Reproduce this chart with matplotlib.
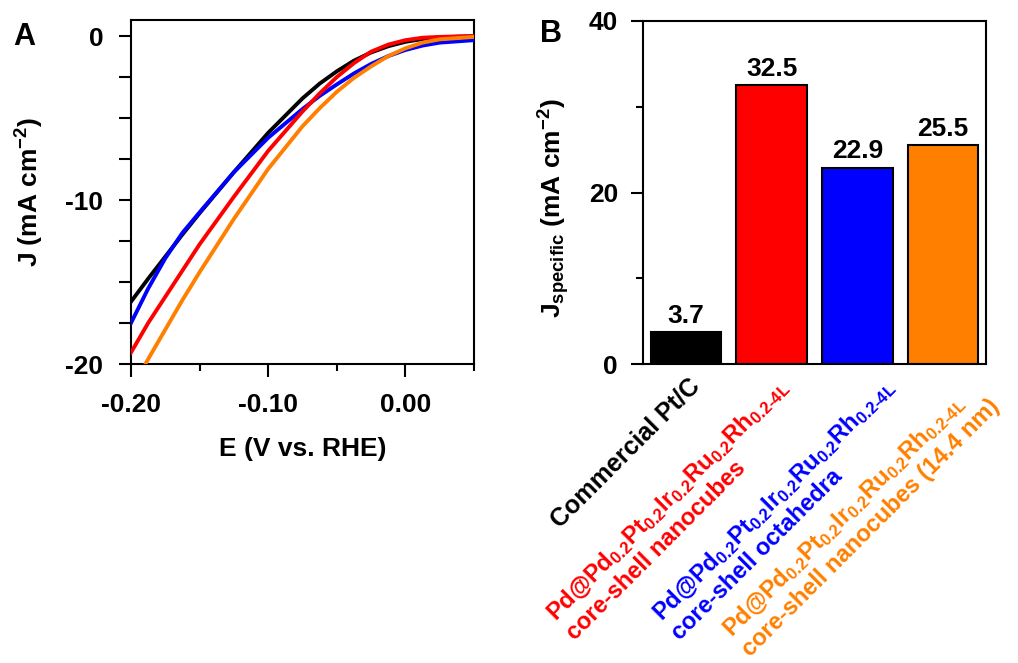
# -*- coding: utf-8 -*-
# LSV curves (A) and specific activity bars (B)

import numpy as np
import matplotlib
matplotlib.use("Agg")
import matplotlib.pyplot as plt
from matplotlib.ticker import MultipleLocator, FormatStrFormatter

plt.rcParams['font.family'] = 'Liberation Sans'
plt.rcParams['font.weight'] = 'bold'
plt.rcParams['axes.unicode_minus'] = False
plt.rcParams['mathtext.fontset'] = 'custom'
plt.rcParams['mathtext.rm'] = 'Liberation Sans:bold'
plt.rcParams['mathtext.it'] = 'Liberation Sans:bold'
plt.rcParams['mathtext.bf'] = 'Liberation Sans:bold'
plt.rcParams['mathtext.default'] = 'regular'

# ---- dados painel A (E em V vs RHE, J em mA cm-2) ----
E = [-0.2, -0.1875, -0.175, -0.1625, -0.15, -0.125, -0.1, -0.075, -0.0625, -0.05,
     -0.0375, -0.025, -0.0125, 0.0, 0.0125, 0.025, 0.05]
J_ptc = [-16.2, -14.8, -13.45, -12.1, -10.8, -8.3, -5.9, -3.8, -2.9, -2.15,
         -1.5, -1.0, -0.62, -0.35, -0.18, -0.08, 0.0]
J_cubes = [-19.3, -17.5, -15.9, -14.3, -12.7, -9.8, -7.0, -4.6, -3.5, -2.5,
           -1.65, -0.95, -0.52, -0.25, -0.1, -0.05, 0.0]
J_octa = [-17.5, -15.4, -13.55, -12.0, -10.75, -8.3, -6.2, -4.45, -3.65, -2.95,
          -2.28, -1.7, -1.22, -0.85, -0.58, -0.4, -0.25]
J_cubes14 = [-21.6, -19.7, -17.9, -16.1, -14.4, -11.15, -8.1, -5.5, -4.4, -3.4,
             -2.55, -1.85, -1.22, -0.75, -0.4, -0.2, -0.05]

# ---- dados painel B ----
amostras = ['Commercial Pt/C',
            'Pd@Pd$_{0.2}$Pt$_{0.2}$Ir$_{0.2}$Ru$_{0.2}$Rh$_{0.2\\text{-}4L}$\ncore-shell nanocubes',
            'Pd@Pd$_{0.2}$Pt$_{0.2}$Ir$_{0.2}$Ru$_{0.2}$Rh$_{0.2\\text{-}4L}$\ncore-shell octahedra',
            'Pd@Pd$_{0.2}$Pt$_{0.2}$Ir$_{0.2}$Ru$_{0.2}$Rh$_{0.2\\text{-}4L}$\ncore-shell nanocubes (14.4 nm)']
j_specific = [3.7, 32.5, 22.9, 25.5]

cores = ['#000000', '#ff0000', '#0000ff', '#ff8000']

fs = 19

fig = plt.figure(figsize=(10.18, 6.63), dpi=100)

# ---------------- Painel A ----------------
ax1 = fig.add_axes([131/1018, 1-364/663, 343/1018, 344/663])
ax1.plot(E, J_ptc, color=cores[0], lw=2.8, zorder=2)
ax1.plot(E, J_octa, color=cores[2], lw=2.8, zorder=3)
ax1.plot(E, J_cubes, color=cores[1], lw=2.8, zorder=4)
ax1.plot(E, J_cubes14, color=cores[3], lw=2.8, zorder=5)
ax1.set_xlim(-0.2, 0.05)
ax1.set_ylim(-20, 0.98)
ax1.xaxis.set_major_locator(MultipleLocator(0.1))
ax1.xaxis.set_minor_locator(MultipleLocator(0.05))
ax1.xaxis.set_major_formatter(FormatStrFormatter('%.2f'))
ax1.yaxis.set_major_locator(MultipleLocator(10))
ax1.yaxis.set_minor_locator(MultipleLocator(2.5))
ax1.tick_params(axis='both', which='major', labelsize=fs, width=1.5, length=9, direction='out')
ax1.tick_params(axis='x', which='major', pad=12)
ax1.tick_params(axis='y', which='major', pad=11)
ax1.tick_params(axis='y', which='minor', width=1.5, length=9)
ax1.tick_params(axis='x', which='minor', width=1.5, length=5)
for s in ax1.spines.values():
    s.set_linewidth(1.5)
ax1.set_xlabel('E (V vs. RHE)', fontsize=fs, fontweight='bold', labelpad=14)
ax1.set_ylabel('J (mA cm$^{-2}$)', fontsize=fs, fontweight='bold', labelpad=14)
fig.text(24/1018, 1-37/663, 'A', fontsize=22, fontweight='bold', ha='center', va='center')

# ---------------- Painel B ----------------
ax2 = fig.add_axes([643/1018, 1-364/663, 343/1018, 343/663])
x = np.arange(len(j_specific))
ax2.bar(x, j_specific, width=0.82, color=cores, edgecolor='black', linewidth=1.5)
for i, v in enumerate(j_specific):
    ax2.text(x[i], v + 0.5, '%.1f' % v, ha='center', va='bottom', fontsize=fs, fontweight='bold')
ax2.set_xlim(-0.5, 3.5)
ax2.set_ylim(0, 40)
ax2.yaxis.set_major_locator(MultipleLocator(20))
ax2.yaxis.set_minor_locator(MultipleLocator(10))
ax2.tick_params(axis='y', which='major', labelsize=fs, width=1.5, length=9, pad=9)
ax2.tick_params(axis='y', which='minor', width=1.5, length=5)
ax2.set_xticks([])
for s in ax2.spines.values():
    s.set_linewidth(1.5)
ax2.set_ylabel('J$_{specific}$ (mA cm$^{-2}$)', fontsize=fs, fontweight='bold')
ax2.yaxis.set_label_coords(-0.207, 0.455)
fig.text(551/1018, 1-34/663, 'B', fontsize=22, fontweight='bold', ha='center', va='center')

# rótulos rodados por baixo das barras (deslocamento em pixels)
desloc = [2, 4, 24, 24]
tamanhos = [18, 17, 17, 17]
for i, nome in enumerate(amostras):
    ax2.annotate(nome, xy=(x[i], 0), xycoords=('data', 'axes fraction'),
                 xytext=(desloc[i], -10), textcoords='offset pixels',
                 rotation=45, rotation_mode='anchor', ha='right', va='top',
                 multialignment='left', fontsize=tamanhos[i], fontweight='bold',
                 color=cores[i], linespacing=1.15, annotation_clip=False)

plt.savefig('out.png', dpi=100)
